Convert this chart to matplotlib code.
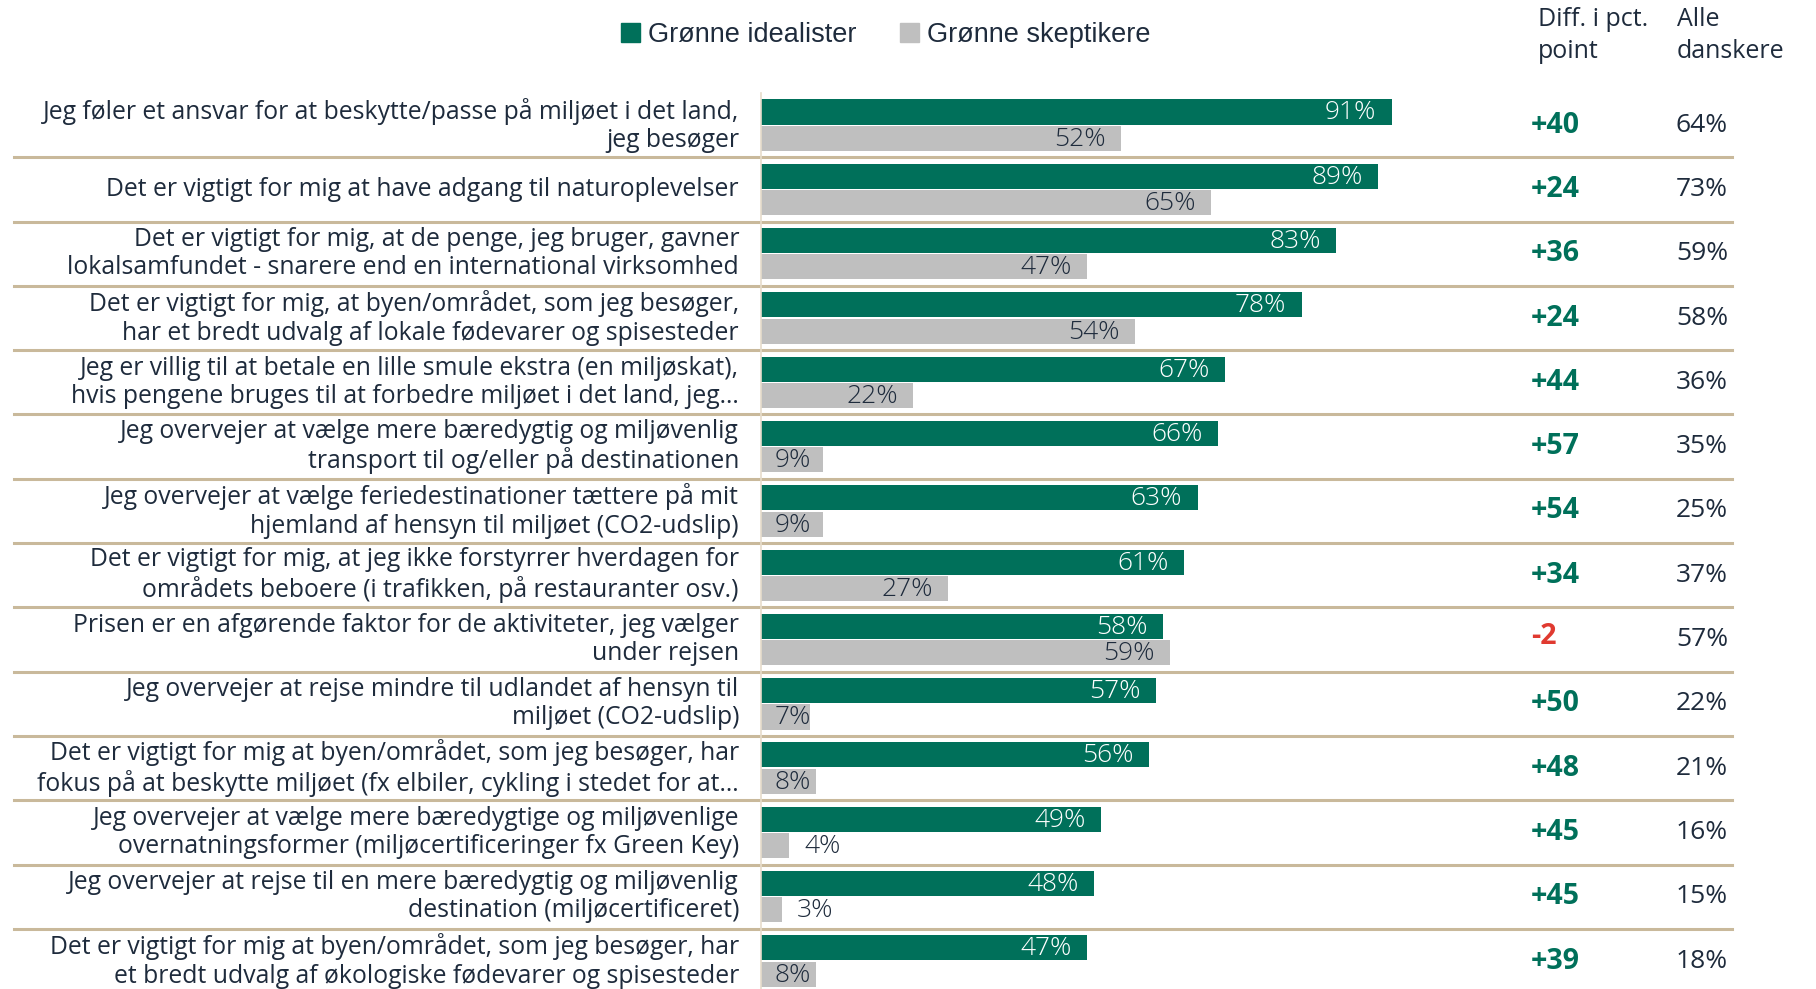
import matplotlib.pyplot as plt
import matplotlib.transforms as mtransforms
from matplotlib.patches import Patch

# data
labels = [
    "Jeg føler et ansvar for at beskytte/passe på miljøet i det land,\njeg besøger",
    "Det er vigtigt for mig at have adgang til naturoplevelser",
    "Det er vigtigt for mig, at de penge, jeg bruger, gavner\nlokalsamfundet - snarere end en international virksomhed",
    "Det er vigtigt for mig, at byen/området, som jeg besøger,\nhar et bredt udvalg af lokale fødevarer og spisesteder",
    "Jeg er villig til at betale en lille smule ekstra (en miljøskat),\nhvis pengene bruges til at forbedre miljøet i det land, jeg…",
    "Jeg overvejer at vælge mere bæredygtig og miljøvenlig\ntransport til og/eller på destinationen",
    "Jeg overvejer at vælge feriedestinationer tættere på mit\nhjemland af hensyn til miljøet (CO2-udslip)",
    "Det er vigtigt for mig, at jeg ikke forstyrrer hverdagen for\nområdets beboere (i trafikken, på restauranter osv.)",
    "Prisen er en afgørende faktor for de aktiviteter, jeg vælger\nunder rejsen",
    "Jeg overvejer at rejse mindre til udlandet af hensyn til\nmiljøet (CO2-udslip)",
    "Det er vigtigt for mig at byen/området, som jeg besøger, har\nfokus på at beskytte miljøet (fx elbiler, cykling i stedet for at…",
    "Jeg overvejer at vælge mere bæredygtige og miljøvenlige\novernatningsformer (miljøcertificeringer fx Green Key)",
    "Jeg overvejer at rejse til en mere bæredygtig og miljøvenlig\ndestination (miljøcertificeret)",
    "Det er vigtigt for mig at byen/området, som jeg besøger, har\net bredt udvalg af økologiske fødevarer og spisesteder",
]
idealister = [91, 89, 83, 78, 67, 66, 63, 61, 58, 57, 56, 49, 48, 47]
skeptikere = [52, 65, 47, 54, 22, 9, 9, 27, 59, 7, 8, 4, 3, 8]
diff = [40, 24, 36, 24, 44, 57, 54, 34, -2, 50, 48, 45, 45, 39]
alle = [64, 73, 59, 58, 36, 35, 25, 37, 57, 22, 21, 16, 15, 18]

GREEN = "#00705a"
GRAY = "#bfbfbf"
LINE = "#c9b99b"
TXT = "#1e2b3c"
RED = "#e03a30"
FONT = "Open Sans"

W, H = 1816, 989
fig = plt.figure(figsize=(W / 100, H / 100), dpi=100)

n = len(labels)
# axes placement in pixels
x0, x1 = 761, 1454
top_px, first_c, last_c = 93, 125, 961
pitch = (last_c - first_c) / (n - 1)
ax = fig.add_axes([x0 / W, 0, (x1 - x0) / W, 1 - top_px / H])
ax.set_xlim(0, 100)
ax.set_ylim(n - 1 + (H - last_c) / pitch, -0.5)

ys = list(range(n))
bh = 0.39
ax.barh([y - 0.205 for y in ys], idealister, height=bh, color=GREEN)
ax.barh([y + 0.205 for y in ys], skeptikere, height=bh, color=GRAY)

pct = dict(fontsize=19, family=FONT, fontweight="light", va="center")
for y, a, b in zip(ys, idealister, skeptikere):
    ax.text(a - 2.2, y - 0.19, f"{a}%", ha="right", color="white", **pct)
    if b >= 10:
        ax.text(b - 2.2, y + 0.22, f"{b}%", ha="right", color=TXT, **pct)
    elif b >= 6:
        ax.text(1.9, y + 0.22, f"{b}%", ha="left", color=TXT, **pct)
    else:
        ax.text(b + 2.2, y + 0.22, f"{b}%", ha="left", color=TXT, **pct)

for s in ["top", "right", "bottom"]:
    ax.spines[s].set_visible(False)
ax.spines["left"].set_color("#e6dccb")
ax.spines["left"].set_linewidth(1.2)
ax.set_xticks([])
ax.set_yticks([])

# row labels and side columns
tr = mtransforms.blended_transform_factory(fig.transFigure, ax.transData)
for y, lab, d, al in zip(ys, labels, diff, alle):
    ax.text(739 / W, y, lab, transform=tr, ha="right", va="center",
            fontsize=17.8, color=TXT, family=FONT, linespacing=1.17,
            multialignment="right")
    ax.text(1531 / W, y - (0.05 if d < 0 else 0), f"{d:+d}", transform=tr,
            ha="left", va="center", fontsize=20.5,
            color=GREEN if d >= 0 else RED, family=FONT, fontweight="bold")
    ax.text(1702 / W, y, f"{al}%", transform=tr, ha="center", va="center",
            fontsize=19, color=TXT, family=FONT)

# separators
for y in ys[:-1]:
    ax.plot([14 / W, 1732 / W], [y + 0.5, y + 0.5], transform=tr,
            color=LINE, lw=2.2, clip_on=False)

# column headers
fig.text(1538 / W, 1 - 7 / H, "Diff. i pct.\npoint", ha="left", va="top",
         fontsize=18, color=TXT, family=FONT, linespacing=1.35)
fig.text(1677 / W, 1 - 7 / H, "Alle\ndanskere", ha="left", va="top",
         fontsize=18, color=TXT, family=FONT, linespacing=1.35)

handles = [Patch(color=GREEN, label="Grønne idealister"),
           Patch(color=GRAY, label="Grønne skeptikere")]
leg = fig.legend(handles=handles, loc="center", bbox_to_anchor=(886 / W, 1 - 35 / H),
                 ncol=2, frameon=False, handlelength=0.7, handleheight=0.7,
                 handletextpad=0.3, columnspacing=1.6,
                 prop={"family": "Liberation Sans", "size": 19.5})
for t in leg.get_texts():
    t.set_color(TXT)

fig.savefig("out.png", dpi=100)
